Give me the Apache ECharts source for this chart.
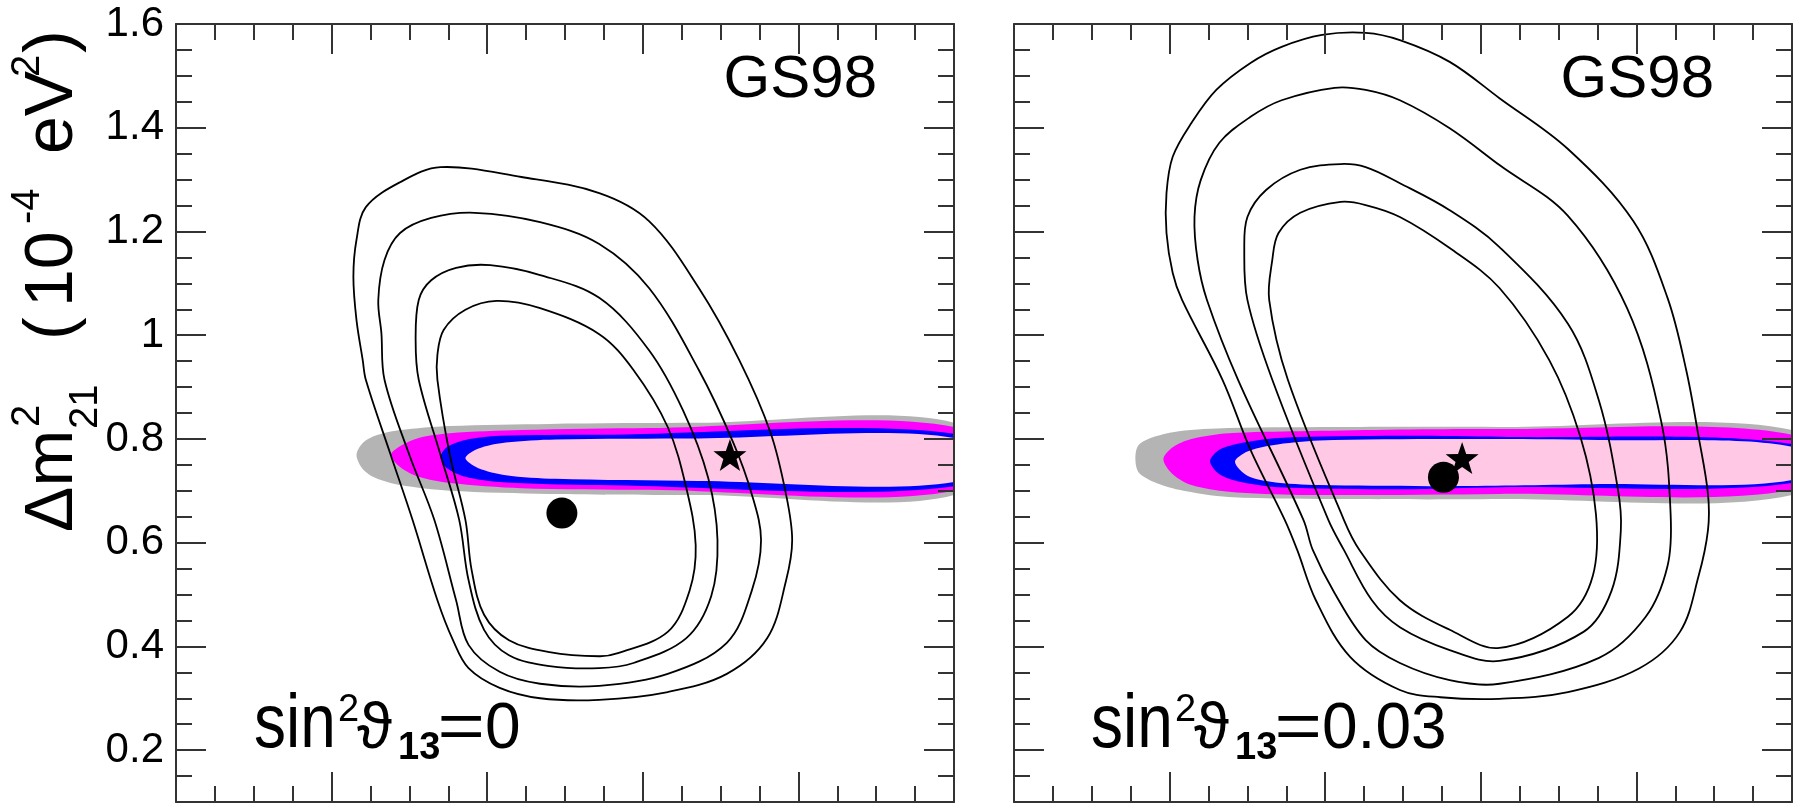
<!DOCTYPE html>
<html>
<head>
<meta charset="utf-8">
<script src="https://cdn.jsdelivr.net/npm/echarts@6/dist/echarts.min.js"></script>
<style>
    html, body { margin: 0; padding: 0; background: #fff; }
    #chart { width: 1801px; height: 805px; }
</style>
</head>
<body>
<div id="chart"></div>
<script>
// axes: sin^2(theta12) horizontally (labels not shown), dm2_21 in 1e-4 eV^2 vertically
const xMin = 0.2, xMax = 0.45, xStep = 0.05;
const yMin = 0.1, yMax = 1.6, yMinorStep = 0.05;
const yTickValues = [0.2, 0.4, 0.6, 0.8, 1.0, 1.2, 1.4, 1.6];

// solar contours, sin^2(theta13) = 0 (inner -> outer)
const solarA1 = [[0.303,1.066],[0.317,1.052],[0.336,1.002],[0.347,0.933],[0.358,0.823],[0.364,0.705],[0.367,0.595],[0.365,0.507],[0.358,0.428],[0.342,0.387],[0.336,0.381],[0.320,0.389],[0.307,0.412],[0.299,0.461],[0.295,0.547],[0.293,0.644],[0.288,0.769],[0.284,0.914],[0.284,0.962],[0.286,1.010],[0.293,1.049]];
const solarA2 = [[0.301,1.135],[0.317,1.116],[0.336,1.072],[0.352,0.971],[0.363,0.854],[0.371,0.725],[0.374,0.605],[0.372,0.497],[0.364,0.416],[0.347,0.368],[0.336,0.358],[0.320,0.362],[0.307,0.383],[0.299,0.432],[0.294,0.528],[0.291,0.644],[0.285,0.769],[0.278,0.914],[0.277,0.991],[0.278,1.068],[0.282,1.106],[0.290,1.130]];
const solarA3 = [[0.296,1.236],[0.317,1.218],[0.336,1.176],[0.352,1.091],[0.368,0.933],[0.379,0.794],[0.385,0.694],[0.388,0.605],[0.385,0.507],[0.377,0.407],[0.358,0.347],[0.336,0.324],[0.317,0.328],[0.304,0.351],[0.294,0.403],[0.290,0.489],[0.283,0.644],[0.275,0.769],[0.267,0.914],[0.266,1.004],[0.265,1.068],[0.267,1.145],[0.272,1.197],[0.282,1.226]];
const solarA4 = [[0.285,1.324],[0.311,1.305],[0.336,1.274],[0.352,1.220],[0.368,1.091],[0.381,0.952],[0.391,0.813],[0.396,0.694],[0.398,0.605],[0.396,0.526],[0.390,0.416],[0.377,0.347],[0.358,0.312],[0.336,0.297],[0.317,0.300],[0.304,0.320],[0.294,0.358],[0.289,0.412],[0.284,0.489],[0.276,0.644],[0.269,0.769],[0.261,0.914],[0.260,0.952],[0.258,1.029],[0.257,1.112],[0.258,1.184],[0.261,1.247],[0.272,1.295]];

// solar contours, sin^2(theta13) = 0.03
const solarB1 = [[0.305,1.257],[0.313,1.251],[0.324,1.228],[0.340,1.168],[0.356,1.091],[0.372,0.952],[0.382,0.804],[0.387,0.655],[0.386,0.536],[0.378,0.457],[0.356,0.397],[0.340,0.432],[0.324,0.489],[0.311,0.586],[0.306,0.644],[0.288,0.914],[0.282,1.068],[0.283,1.145],[0.285,1.197],[0.292,1.236]];
const solarB2 = [[0.305,1.330],[0.313,1.324],[0.324,1.293],[0.340,1.241],[0.356,1.170],[0.378,1.022],[0.388,0.873],[0.394,0.705],[0.395,0.624],[0.392,0.507],[0.383,0.428],[0.356,0.372],[0.340,0.393],[0.324,0.437],[0.315,0.489],[0.306,0.586],[0.301,0.644],[0.283,0.914],[0.275,1.068],[0.274,1.164],[0.275,1.228],[0.281,1.280],[0.292,1.319]];
const solarB3 = [[0.303,1.477],[0.313,1.473],[0.324,1.453],[0.340,1.399],[0.356,1.328],[0.378,1.230],[0.397,1.052],[0.408,0.833],[0.411,0.655],[0.410,0.555],[0.403,0.457],[0.388,0.378],[0.356,0.328],[0.340,0.335],[0.324,0.368],[0.313,0.412],[0.303,0.503],[0.296,0.586],[0.293,0.644],[0.272,0.914],[0.262,1.068],[0.259,1.145],[0.258,1.228],[0.260,1.299],[0.266,1.371],[0.276,1.421],[0.286,1.453]];
const solarB4 = [[0.299,1.579],[0.313,1.583],[0.324,1.569],[0.340,1.527],[0.356,1.457],[0.378,1.359],[0.399,1.220],[0.410,1.072],[0.416,0.933],[0.420,0.804],[0.423,0.694],[0.423,0.624],[0.420,0.536],[0.414,0.428],[0.401,0.358],[0.378,0.312],[0.356,0.299],[0.337,0.302],[0.324,0.316],[0.308,0.380],[0.297,0.489],[0.291,0.586],[0.287,0.644],[0.276,0.779],[0.267,0.914],[0.254,1.068],[0.251,1.120],[0.249,1.197],[0.249,1.274],[0.251,1.344],[0.257,1.409],[0.265,1.473],[0.276,1.525],[0.286,1.556]];

// KamLAND regions, sin^2(theta13) = 0 (outer -> inner)
const kamA3 = [[0.258,0.769],[0.260,0.792],[0.264,0.806],[0.272,0.817],[0.288,0.825],[0.320,0.829],[0.368,0.831],[0.450,0.831],[0.450,0.692],[0.368,0.692],[0.320,0.694],[0.288,0.700],[0.272,0.711],[0.264,0.725],[0.260,0.742]];
const kamA2 = [[0.269,0.769],[0.272,0.786],[0.278,0.802],[0.288,0.811],[0.311,0.817],[0.352,0.821],[0.450,0.823],[0.450,0.700],[0.352,0.702],[0.311,0.705],[0.288,0.715],[0.278,0.727],[0.272,0.746]];
const kamA1 = [[0.285,0.765],[0.287,0.784],[0.293,0.798],[0.304,0.806],[0.336,0.808],[0.450,0.810],[0.450,0.709],[0.336,0.711],[0.304,0.717],[0.293,0.727],[0.287,0.744]];
const kamA0 = [[0.293,0.763],[0.297,0.781],[0.306,0.793],[0.322,0.799],[0.368,0.801],[0.450,0.802],[0.450,0.717],[0.368,0.719],[0.322,0.723],[0.306,0.730],[0.297,0.744]];

// KamLAND regions, sin^2(theta13) = 0.03
const kamB3 = [[0.239,0.763],[0.240,0.788],[0.245,0.804],[0.253,0.815],[0.269,0.821],[0.308,0.823],[0.356,0.823],[0.450,0.817],[0.450,0.692],[0.356,0.684],[0.308,0.684],[0.269,0.688],[0.253,0.702],[0.245,0.717],[0.240,0.736]];
const kamB2 = [[0.248,0.761],[0.251,0.784],[0.257,0.800],[0.269,0.811],[0.292,0.815],[0.356,0.819],[0.450,0.808],[0.450,0.702],[0.356,0.694],[0.292,0.692],[0.269,0.698],[0.257,0.711],[0.251,0.732]];
const kamB1 = [[0.263,0.757],[0.266,0.779],[0.273,0.792],[0.285,0.802],[0.324,0.806],[0.356,0.804],[0.450,0.790],[0.450,0.715],[0.356,0.707],[0.324,0.703],[0.285,0.707],[0.273,0.717],[0.266,0.732]];
const kamB0 = [[0.271,0.756],[0.275,0.776],[0.283,0.788],[0.298,0.797],[0.340,0.800],[0.388,0.798],[0.450,0.785],[0.450,0.721],[0.388,0.713],[0.340,0.709],[0.298,0.711],[0.283,0.717],[0.275,0.729]];

// best fits
const solarBestA = [[0.324, 0.657]];
const kamBestA = [[0.378, 0.769]];
const solarBestB = [[0.338, 0.726]];
const kamBestB = [[0.344, 0.763]];

const kamColors = ['#b4b4b4', '#ff00ff', '#0000ff', '#ffc9e5'];
const FONT = 'Liberation Sans';
const AX = '#333';

function xAxisFor(grid, pos) {
    return {
        type: 'value', gridIndex: grid, position: pos, min: xMin, max: xMax, interval: xStep, z: 10,
        axisLine: { show: true, onZero: false, lineStyle: { color: AX, width: 2 } },
        axisTick: { show: true, inside: true, length: 30, lineStyle: { color: AX, width: 2 } },
        minorTick: { show: true, splitNumber: 4, length: 16, lineStyle: { color: AX, width: 2 } },
        axisLabel: { show: false },
        splitLine: { show: false }
    };
}
function yMinorAxis(grid, pos) {
    return {
        type: 'value', gridIndex: grid, position: pos, min: yMin, max: yMax, interval: yMinorStep, z: 10,
        axisLine: { show: true, onZero: false, lineStyle: { color: AX, width: 2 } },
        axisTick: { show: true, inside: true, length: 16, lineStyle: { color: AX, width: 2 } },
        axisLabel: { show: false },
        splitLine: { show: false }
    };
}
function yMajorAxis(grid, pos, labels) {
    return {
        type: 'value', gridIndex: grid, position: pos, min: yMin, max: yMax, z: 10,
        axisLine: { show: false },
        axisTick: { show: true, inside: true, length: 30, customValues: yTickValues, lineStyle: { color: AX, width: 2 } },
        axisLabel: {
            show: labels, customValues: yTickValues, margin: 12,
            fontSize: 42, fontFamily: FONT, color: '#000',
            formatter: v => String(+(+v).toFixed(1))
        },
        splitLine: { show: false }
    };
}

function region(pts, grid, color) {
    return {
        type: 'custom', xAxisIndex: grid * 2, yAxisIndex: grid * 4, clip: true, silent: true, z: 2,
        data: pts,
        renderItem: function (params, api) {
            if (params.dataIndex !== 0) return;
            return {
                type: 'polygon',
                shape: { points: pts.map(p => api.coord(p)), smooth: 0.3 },
                style: { fill: color }
            };
        }
    };
}
function contour(pts, grid) {
    return {
        type: 'custom', xAxisIndex: grid * 2, yAxisIndex: grid * 4, clip: true, silent: true, z: 3,
        data: pts,
        renderItem: function (params, api) {
            if (params.dataIndex !== 0) return;
            return {
                type: 'polygon',
                shape: { points: pts.map(p => api.coord(p)), smooth: 0.35 },
                style: { fill: 'none', stroke: '#000', lineWidth: 1.8 }
            };
        }
    };
}
const STAR = 'path://M0,-50 L11.8,-16.2 L47.6,-15.5 L19,6.2 L29.4,40.5 L0,20 L-29.4,40.5 L-19,6.2 L-47.6,-15.5 L-11.8,-16.2 Z';
function marker(pts, grid, symbol, size) {
    return {
        type: 'scatter', xAxisIndex: grid * 2, yAxisIndex: grid * 4, z: 5, silent: true,
        symbol: symbol, symbolSize: size, data: pts,
        itemStyle: { color: '#000', opacity: 1 }
    };
}

function txt(x, y, s, size, more, extra) {
    return Object.assign({
        type: 'text', x: x, y: y,
        style: Object.assign({ text: s, fontSize: size, fontFamily: FONT, fill: '#000', verticalAlign: 'middle' }, more || {})
    }, extra || {});
}
function bottomLabel(x0, value) {
    return [
        txt(x0 - 3, 725.6, 'sin', 64, null, { scaleY: 1.2 }),
        txt(x0 + 81, 711, '2', 38),
        txt(x0 + 100, 730, 'ϑ', 64),
        txt(x0 + 141, 749, '13', 38, { fontWeight: 'bold' }),
        txt(x0 + 180.5, 730, '=', 64, null, { scaleX: 1.27 }),
        txt(x0 + 228, 730, value, 64)
    ];
}

const chart = echarts.init(document.getElementById('chart'));
chart.setOption({
    animation: false,
    backgroundColor: '#fff',
    grid: [
        { left: 176, top: 24, width: 778, height: 778 },
        { left: 1014, top: 24, width: 778, height: 778 }
    ],
    xAxis: [xAxisFor(0, 'bottom'), xAxisFor(0, 'top'), xAxisFor(1, 'bottom'), xAxisFor(1, 'top')],
    yAxis: [
        yMinorAxis(0, 'left'), yMajorAxis(0, 'left', true), yMinorAxis(0, 'right'), yMajorAxis(0, 'right', false),
        yMinorAxis(1, 'left'), yMajorAxis(1, 'left', false), yMinorAxis(1, 'right'), yMajorAxis(1, 'right', false)
    ],
    series: [
        region(kamA3, 0, kamColors[0]), region(kamA2, 0, kamColors[1]), region(kamA1, 0, kamColors[2]), region(kamA0, 0, kamColors[3]),
        region(kamB3, 1, kamColors[0]), region(kamB2, 1, kamColors[1]), region(kamB1, 1, kamColors[2]), region(kamB0, 1, kamColors[3]),
        contour(solarA1, 0), contour(solarA2, 0), contour(solarA3, 0), contour(solarA4, 0),
        contour(solarB1, 1), contour(solarB2, 1), contour(solarB3, 1), contour(solarB4, 1),
        marker(solarBestA, 0, 'circle', 31), marker(kamBestA, 0, STAR, [33, 32]),
        marker(solarBestB, 1, 'circle', 31), marker(kamBestB, 1, STAR, [33, 32])
    ],
    graphic: [
        // y-axis title, reads bottom to top
        {
            type: 'group', x: 77, y: 532, rotation: Math.PI / 2,
            children: [
                txt(0, -24, 'Δm', 68),
                txt(105, -49, '2', 40),
                txt(103, 9, '21', 40),
                txt(192, -24, '(', 68),
                txt(225, -24, '10', 68),
                txt(308, -49, '-4', 40),
                txt(378, -24, 'eV', 68),
                txt(455, -49, '2', 40),
                txt(479, -24, ')', 68)
            ]
        },
        txt(877, 80, 'GS98', 60, { align: 'right' }),
        txt(1714, 80, 'GS98', 60, { align: 'right' })
    ].concat(bottomLabel(257, '0'), bottomLabel(1094, '0.03'))
});
</script>
</body>
</html>
